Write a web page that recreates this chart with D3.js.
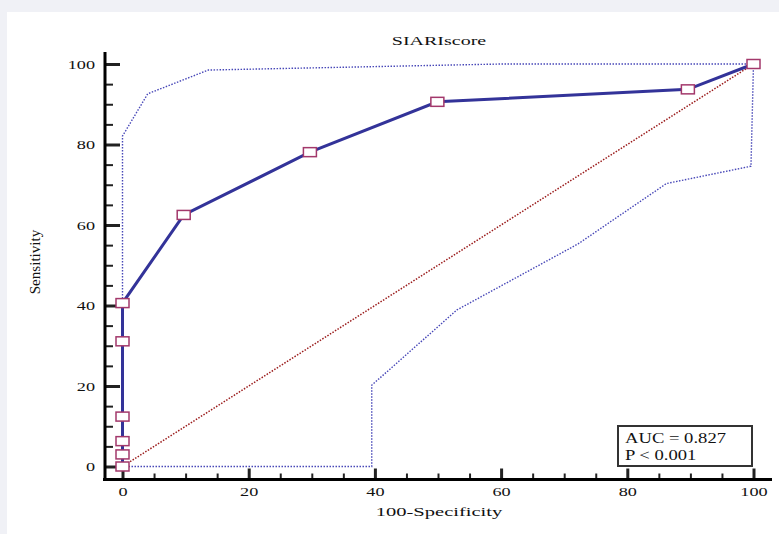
<!DOCTYPE html>
<html>
<head>
<meta charset="utf-8">
<script src="https://cdn.jsdelivr.net/npm/d3@7"></script>
<style>
  body { margin: 0; background: #f0f1f6; }
  svg { display: block; }
  text { font-family: "Liberation Serif", "Times New Roman", serif; fill: #111; }
</style>
</head>
<body>
<div id="body"></div>
<script>
// ROC curve points (100-Specificity, Sensitivity)
var rocX = [0, 0, 0, 0, 0, 0, 9.7, 29.7, 49.9, 89.6, 100];
var rocY = [0, 3, 6.3, 12.4, 31.1, 40.6, 62.5, 78.1, 90.6, 93.7, 100];

// 95% confidence band, upper and lower
var upperX = [0, 0, 4, 13.6, 60, 100];
var upperY = [0, 82.1, 92.6, 98.5, 100, 100];
var lowerX = [0, 39.5, 39.5, 53, 72.2, 86.2, 99.6, 100];
var lowerY = [0, 0, 20.2, 38.9, 55.3, 70.3, 74.6, 100];

var majorTicks = [0, 20, 40, 60, 80, 100];
var minorTicks = d3.range(0, 101, 5).filter(function (d) { return d % 20 != 0; });

var title = "SIARIscore";
var xTitle = "100-Specificity";
var yTitle = "Sensitivity";
var legendLines = ["AUC = 0.827", "P < 0.001"];

function RenderRoc() {
    var width = 779, height = 534;

    var x = d3.scaleLinear().domain([0, 100]).range([122.5, 753.5]);
    var y = d3.scaleLinear().domain([0, 100]).range([466.5, 64]);

    var svg = d3.select("#body").append("svg")
        .attr("width", width)
        .attr("height", height);

    svg.append("rect").attr("width", width).attr("height", height).attr("fill", "#f0f1f6");
    svg.append("rect").attr("x", 7).attr("y", 12).attr("width", width - 7).attr("height", height - 12).attr("fill", "#ffffff");

    // stretched serif text like the original export
    function stext(str, tx, ty, size, sx, anchor) {
        return svg.append("text")
            .attr("transform", "translate(" + tx + "," + ty + ") scale(" + sx + ",1)")
            .attr("font-size", size)
            .attr("text-anchor", anchor)
            .text(str);
    }

    stext(title, 439, 45, 12.5, 1.6, "middle");
    stext(xTitle, 439, 516, 13, 1.58, "middle");

    svg.append("text")
        .attr("transform", "translate(40,262) rotate(-90) scale(1.08,1)")
        .attr("font-size", 14)
        .attr("text-anchor", "middle")
        .text(yTitle);

    // y axis
    var yAxisMajor = d3.axisLeft(y).tickValues(majorTicks).tickSize(-15).tickPadding(10);
    var yAxisMinor = d3.axisLeft(y).tickValues(minorTicks).tickSize(-8).tickFormat("");
    var gy = svg.append("g").attr("transform", "translate(105,0)").call(yAxisMajor);
    var gy2 = svg.append("g").attr("transform", "translate(105,0)").call(yAxisMinor);

    // x axis
    var xAxisMajor = d3.axisBottom(x).tickValues(majorTicks).tickSize(-11).tickPadding(7.6);
    var xAxisMinor = d3.axisBottom(x).tickValues(minorTicks).tickSize(-6).tickFormat("");
    var gx = svg.append("g").attr("transform", "translate(0,479.5)").call(xAxisMajor);
    var gx2 = svg.append("g").attr("transform", "translate(0,479.5)").call(xAxisMinor);

    [gy, gy2, gx, gx2].forEach(function (g) {
        g.select(".domain").remove();
        g.selectAll(".tick line").attr("stroke", "#222");
    });
    gy.selectAll(".tick line").attr("stroke-width", 3);
    gx.selectAll(".tick line").attr("stroke-width", 3);
    gy2.selectAll(".tick line").attr("stroke-width", 2);
    gx2.selectAll(".tick line").attr("stroke-width", 2);

    gy.selectAll(".tick text")
        .attr("x", null)
        .attr("transform", "translate(-10,0) scale(1.4,1)")
        .attr("font-family", "Liberation Serif")
        .attr("font-size", 13)
        .attr("fill", "#111");
    gx.selectAll(".tick text")
        .attr("transform", "scale(1.4,1)")
        .attr("font-family", "Liberation Serif")
        .attr("font-size", 13)
        .attr("fill", "#111");

    svg.append("line").attr("x1", 105).attr("x2", 105).attr("y1", 52).attr("y2", 481)
        .attr("stroke", "#000").attr("stroke-width", 3);
    svg.append("line").attr("x1", 103).attr("x2", 772).attr("y1", 479.5).attr("y2", 479.5)
        .attr("stroke", "#000").attr("stroke-width", 3);

    var line = d3.line()
        .x(function (d) { return x(d[0]); })
        .y(function (d) { return y(d[1]); });

    // diagonal reference
    svg.append("path")
        .attr("d", line([[0, 0], [100, 100]]))
        .attr("fill", "none")
        .attr("stroke", "#9b1c1c")
        .attr("stroke-width", 1.5)
        .attr("stroke-dasharray", "1.5,1.5");

    // confidence bands
    [[upperX, upperY], [lowerX, lowerY]].forEach(function (b) {
        svg.append("path")
            .attr("d", line(d3.zip(b[0], b[1])))
            .attr("fill", "none")
            .attr("stroke", "#4848b8")
            .attr("stroke-width", 1.4)
            .attr("stroke-dasharray", "1.5,1.5");
    });

    // ROC curve
    var pts = d3.zip(rocX, rocY);
    svg.append("path")
        .attr("d", line(pts))
        .attr("fill", "none")
        .attr("stroke", "#333399")
        .attr("stroke-width", 3);

    svg.selectAll(".mk")
        .data(pts)
        .enter().append("rect")
        .attr("class", "mk")
        .attr("x", function (d) { return x(d[0]) - 6.5; })
        .attr("y", function (d) { return y(d[1]) - 4.5; })
        .attr("width", 13)
        .attr("height", 9)
        .attr("fill", "#fff")
        .attr("stroke", "#a3386b")
        .attr("stroke-width", 1.5);

    // legend box
    svg.append("rect")
        .attr("x", 618).attr("y", 426).attr("width", 134).attr("height", 40)
        .attr("fill", "#fff").attr("stroke", "#333").attr("stroke-width", 2);
    legendLines.forEach(function (t, i) {
        stext(t, 625, 443 + i * 16.5, 14, 1.33, "start");
    });
}

RenderRoc();
</script>
</body>
</html>
